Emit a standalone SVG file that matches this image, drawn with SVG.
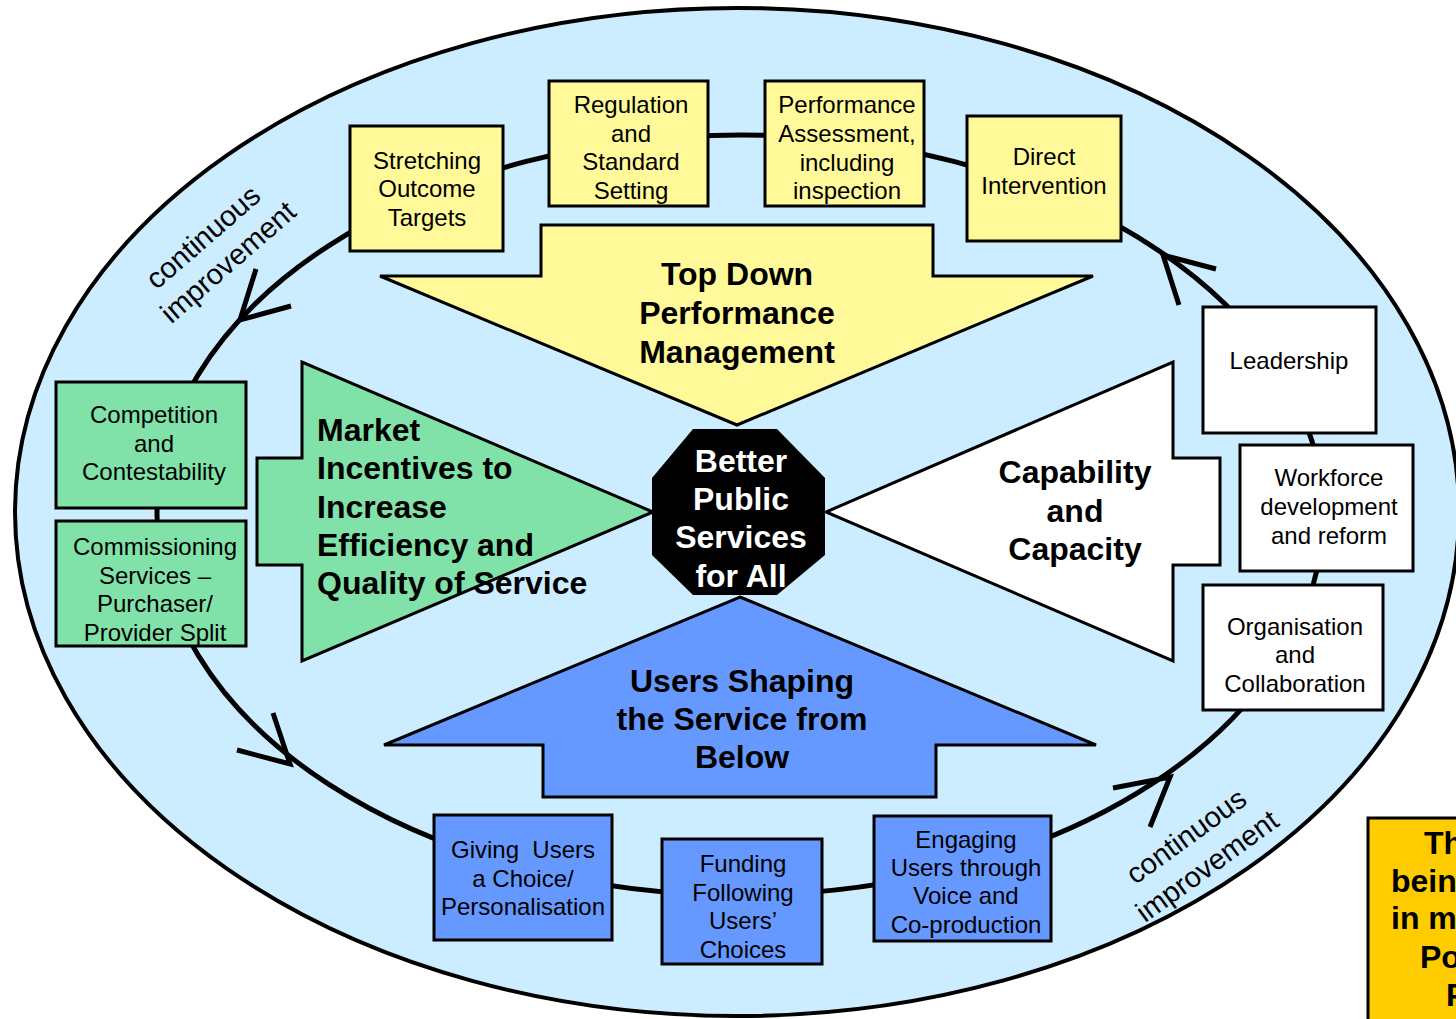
<svg xmlns="http://www.w3.org/2000/svg" width="1456" height="1019" viewBox="0 0 1456 1019">
<style>
.box{stroke:#000;stroke-width:3}
.y{fill:#FFF99A}.g{fill:#80E2A8}.w{fill:#FFFFFF}.b{fill:#6699FF}
.t{font-family:"Liberation Sans",Arial,sans-serif;font-size:24px;fill:#000;text-anchor:middle}
.bt{font-family:"Liberation Sans",Arial,sans-serif;font-size:32px;font-weight:bold;fill:#000;text-anchor:middle}
.ci{font-family:"Liberation Sans",Arial,sans-serif;font-size:29px;fill:#000;text-anchor:middle}
.arr{stroke:#000;stroke-width:3;stroke-linejoin:miter}
.head{fill:none;stroke:#000;stroke-width:5;stroke-linecap:butt;stroke-linejoin:miter}
</style>
<rect x="0" y="0" width="1456" height="1019" fill="#FFFFFF"/>
<ellipse id="outer" cx="737" cy="512" rx="722" ry="504" fill="#CCECFF" stroke="#000" stroke-width="4"/>
<g id="connectors">
<ellipse cx="740" cy="515" rx="583" ry="380" fill="none" stroke="#000" stroke-width="5"/>
<polyline class="head" points="256,269 240,320 291,306"/>
<polyline class="head" points="273,713 290,764 237,750"/>
<polyline class="head" points="1113,788 1170,777 1150,827"/>
<polyline class="head" points="1216,269 1163,255 1179,305"/>
</g>
<g id="ci-top">
<text class="ci" transform="translate(203,237) rotate(-41)" y="10">continuous</text>
<text class="ci" transform="translate(228,262) rotate(-41)" y="10">improvement</text>
</g>
<g id="ci-bottom">
<text class="ci" transform="translate(1186,836) rotate(-36)" y="10">continuous</text>
<text class="ci" transform="translate(1207,866) rotate(-36)" y="10">improvement</text>
</g>
<g id="topdown">
<polygon class="arr y" points="541,225 933,225 933,276 1093,276 737,425 380,276 541,276"/>
<text class="bt" x="737" y="285">Top Down</text>
<text class="bt" x="737" y="324">Performance</text>
<text class="bt" x="737" y="363">Management</text>
</g>
<g id="market">
<polygon class="arr g" points="257,458 302,458 302,362 653,512 302,661 302,565 257,565"/>
<g class="bt" style="text-anchor:start">
<text x="317" y="441">Market</text>
<text x="317" y="479">Incentives to</text>
<text x="317" y="518">Increase</text>
<text x="317" y="556">Efficiency and</text>
<text x="317" y="594">Quality of Service</text>
</g>
</g>
<g id="capability">
<polygon class="arr w" points="1220,458 1173,458 1173,362 826,512 1173,661 1173,565 1220,565"/>
<text class="bt" x="1075" y="483">Capability</text>
<text class="bt" x="1075" y="522">and</text>
<text class="bt" x="1075" y="560">Capacity</text>
</g>
<g id="users">
<polygon class="arr b" points="740,597 1096,745 936,745 936,797 543,797 543,745 384,745"/>
<text class="bt" x="742" y="692">Users Shaping</text>
<text class="bt" x="742" y="730">the Service from</text>
<text class="bt" x="742" y="768">Below</text>
</g>
<g id="center">
<polygon points="693,429 777,429 825,478 825,555 777,595 693,595 652,555 652,478" fill="#000"/>
<g class="bt" style="fill:#FFF">
<text x="741" y="472">Better</text>
<text x="741" y="510">Public</text>
<text x="741" y="548">Services</text>
<text x="741" y="587">for All</text>
</g>
</g>
<g id="stretching">
<rect class="box y" x="350" y="126" width="153" height="125"/>
<text class="t" x="427" y="169">Stretching</text>
<text class="t" x="427" y="197">Outcome</text>
<text class="t" x="427" y="226">Targets</text>
</g>
<g id="regulation">
<rect class="box y" x="549" y="81" width="159" height="125"/>
<text class="t" x="631" y="113">Regulation</text>
<text class="t" x="631" y="142">and</text>
<text class="t" x="631" y="170">Standard</text>
<text class="t" x="631" y="199">Setting</text>
</g>
<g id="performance">
<rect class="box y" x="765" y="81" width="159" height="125"/>
<text class="t" x="847" y="113">Performance</text>
<text class="t" x="847" y="142">Assessment,</text>
<text class="t" x="847" y="171">including</text>
<text class="t" x="847" y="199">inspection</text>
</g>
<g id="direct">
<rect class="box y" x="967" y="116" width="154" height="125"/>
<text class="t" x="1044" y="165">Direct</text>
<text class="t" x="1044" y="194">Intervention</text>
</g>
<g id="competition">
<rect class="box g" x="56" y="382" width="190" height="126"/>
<text class="t" x="154" y="423">Competition</text>
<text class="t" x="154" y="452">and</text>
<text class="t" x="154" y="480">Contestability</text>
</g>
<g id="commissioning">
<rect class="box g" x="56" y="521" width="190" height="125"/>
<text class="t" x="155" y="555">Commissioning</text>
<text class="t" x="155" y="584">Services –</text>
<text class="t" x="155" y="612">Purchaser/</text>
<text class="t" x="155" y="641">Provider Split</text>
</g>
<g id="leadership">
<rect class="box w" x="1203" y="307" width="173" height="126"/>
<text class="t" x="1289" y="369">Leadership</text>
</g>
<g id="workforce">
<rect class="box w" x="1240" y="445" width="173" height="126"/>
<text class="t" x="1329" y="486">Workforce</text>
<text class="t" x="1329" y="515">development</text>
<text class="t" x="1329" y="544">and reform</text>
</g>
<g id="organisation">
<rect class="box w" x="1203" y="585" width="180" height="125"/>
<text class="t" x="1295" y="635">Organisation</text>
<text class="t" x="1295" y="663">and</text>
<text class="t" x="1295" y="692">Collaboration</text>
</g>
<g id="giving">
<rect class="box b" x="434" y="815" width="178" height="125"/>
<text class="t" x="523" y="858" xml:space="preserve">Giving  Users</text>
<text class="t" x="523" y="887">a Choice/</text>
<text class="t" x="523" y="915">Personalisation</text>
</g>
<g id="funding">
<rect class="box b" x="662" y="839" width="160" height="125"/>
<text class="t" x="743" y="872">Funding</text>
<text class="t" x="743" y="901">Following</text>
<text class="t" x="743" y="929">Users’</text>
<text class="t" x="743" y="958">Choices</text>
</g>
<g id="engaging">
<rect class="box b" x="874" y="816" width="177" height="125"/>
<text class="t" x="966" y="848">Engaging</text>
<text class="t" x="966" y="876">Users through</text>
<text class="t" x="966" y="904">Voice and</text>
<text class="t" x="966" y="933">Co-production</text>
</g>
<g id="note">
<rect x="1368" y="818" width="100" height="210" fill="#FFCC00" stroke="#000" stroke-width="3"/>
<g class="bt" style="text-anchor:start">
<text x="1424" y="854">Th</text>
<text x="1391" y="892">bein</text>
<text x="1391" y="929">in m</text>
<text x="1420" y="968">Po</text>
<text x="1446" y="1006">P</text>
</g>
</g>
</svg>
